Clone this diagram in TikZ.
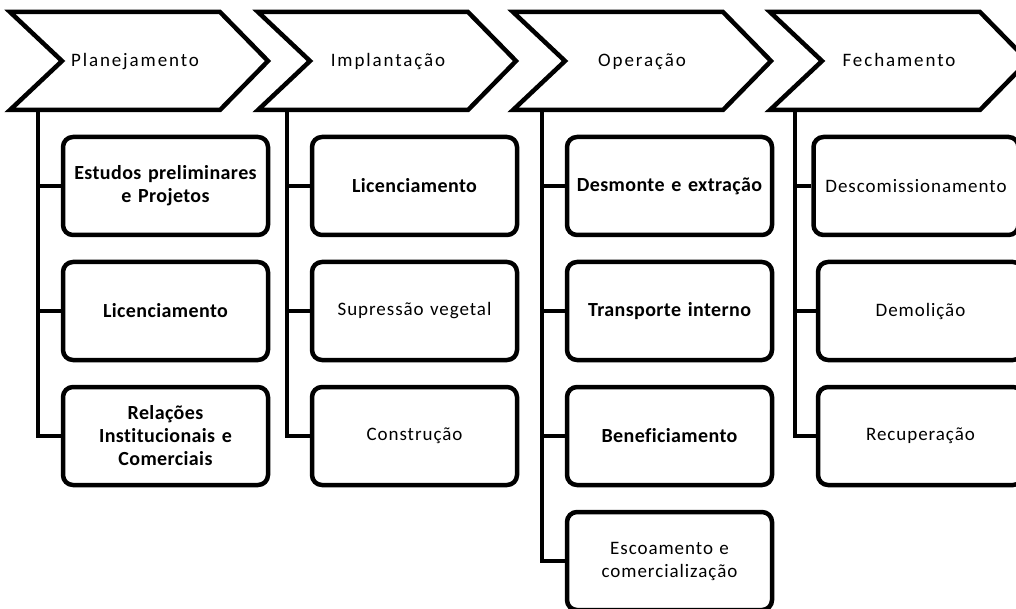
\documentclass[tikz,border=0pt]{standalone}
\usepackage{fontspec}
\setmainfont{Carlito}[LetterSpace=5, Ligatures=NoCommon]
\begin{document}
\begin{tikzpicture}[x=1pt,y=-1pt,
  chev/.style={line width=4.5pt, line join=miter, miter limit=10, fill=white},
  stage/.style={font=\fontsize{19}{23}\selectfont\addfontfeature{LetterSpace=10}, inner sep=0pt, anchor=base},
  task/.style={draw, line width=4.5pt, rounded corners=10pt, fill=white,
    minimum width=205pt, minimum height=98pt, inner sep=0pt,
    text width=200pt, align=center, font=\fontsize{19}{23}\selectfont},
  taskb/.style={task, font=\fontsize{20}{23}\selectfont\bfseries\addfontfeature{LetterSpace=2}},
  stem/.style={line width=4.5pt},
  branch/.style={line width=3.5pt}]
\clip (0,0) rectangle (1016,609);

% chevron outline with its left corner at x = #1
\newcommand\phasechevron[1]{%
  \draw[chev] (#1,12) -- ++(210,0) -- ++(48,49) -- ++(-48,49) -- ++(-210,0)
    -- ++(52,-49) -- cycle;}

\phasechevron{10}
\phasechevron{258}
\phasechevron{513}
\phasechevron{770}

\node[stage] (s1) at (135,67) {Planejamento};
\node[stage] (s2) at (388,67) {Implantação};
\node[stage] (s3) at (642,67) {Operação};
\node[stage] (s4) at (899,67) {Fechamento};

% stem tops under each chevron
\coordinate (p1) at (38,110);
\coordinate (p2) at (287,110);
\coordinate (p3) at (542,110);
\coordinate (p4) at (795,110);

% column 1
\node[taskb] (a1) at (165.5,186) {Estudos preliminares\\e Projetos};
\node[taskb] (a2) at (165.5,311) {Licenciamento};
\node[taskb] (a3) at (165.5,436) {Relações\\Institucionais e\\Comerciais};
% column 2
\node[taskb] (b1) at (414.5,186) {Licenciamento};
\node[task]  (b2) at (414.5,311) {Supressão vegetal};
\node[task]  (b3) at (414.5,436) {Construção};
% column 3
\node[taskb] (c1) at (669.5,186) {Desmonte e extração};
\node[taskb] (c2) at (669.5,311) {Transporte interno};
\node[taskb] (c3) at (669.5,436) {Beneficiamento};
\node[task]  (c4) at (669.5,561) {Escoamento e\\comercialização};
% column 4
\node[task] (d1) at (916,186) {Descomissionamento};
\node[task] (d2) at (920.5,311) {Demolição};
\node[task] (d3) at (920.5,436) {Recuperação};

% stems and branches
\draw[stem, line join=miter] (p1) |- (a3.west);
\draw[branch] (p1 |- a1.west) -- (a1.west);
\draw[branch] (p1 |- a2.west) -- (a2.west);

\draw[stem, line join=miter] (p2) |- (b3.west);
\draw[branch] (p2 |- b1.west) -- (b1.west);
\draw[branch] (p2 |- b2.west) -- (b2.west);

\draw[stem, line join=miter] (p3) |- (c4.west);
\draw[branch] (p3 |- c1.west) -- (c1.west);
\draw[branch] (p3 |- c2.west) -- (c2.west);
\draw[branch] (p3 |- c3.west) -- (c3.west);

\draw[stem, line join=miter] (p4) |- (d3.west);
\draw[branch] (p4 |- d1.west) -- (d1.west);
\draw[branch] (p4 |- d2.west) -- (d2.west);
\end{tikzpicture}
\end{document}
